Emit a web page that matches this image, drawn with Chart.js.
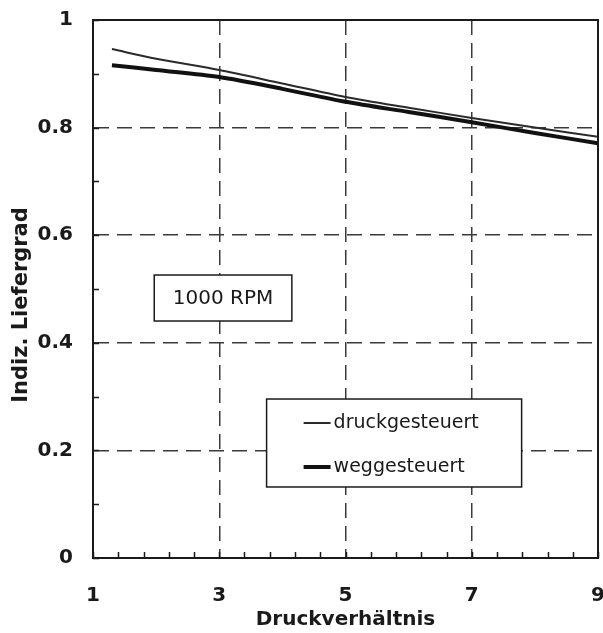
<!DOCTYPE html>
<html>
<head>
<meta charset="utf-8">
<script src="https://cdn.jsdelivr.net/npm/chart.js@4.4.1/dist/chart.umd.min.js"></script>
<style>
  html, body { margin: 0; padding: 0; background: #fff; }
  canvas { display: block; }
</style>
</head>
<body>
<canvas id="chart" width="603" height="633"></canvas>
<script>
// --- Data ---
const druckVerhaeltnis = [1.3, 2, 3, 4, 5, 6, 7, 8, 9];
const druckgesteuert = [0.946, 0.928, 0.907, 0.882, 0.857, 0.837, 0.818, 0.800, 0.783];
const weggesteuert = [0.916, 0.907, 0.894, 0.872, 0.848, 0.829, 0.810, 0.790, 0.771];
const seriesNames = ['druckgesteuert', 'weggesteuert'];
const xTickValues = [1, 3, 5, 7, 9];
const yTickValues = [0, 0.2, 0.4, 0.6, 0.8, 1];
const yTickLabels = ['0', '0.2', '0.4', '0.6', '0.8', '1'];
const xMinorStep = 0.4;
const yMinorStep = 0.1;
const noteText = '1000 RPM';
const xTitle = 'Druckverhältnis';
const yTitle = 'Indiz. Liefergrad';

const ink = '#1a1a1a';
const gridInk = '#3a3a3a';

const toPoints = ys => druckVerhaeltnis.map((x, i) => ({ x: x, y: ys[i] }));

// frame, inward tick marks, note box, legend box, y title
const decorations = {
    id: 'decorations',
    afterDatasetsDraw(chart) {
        const { ctx, chartArea: a, scales: { x, y } } = chart;
        ctx.save();

        // inward tick marks on bottom and left axis
        ctx.strokeStyle = ink;
        ctx.lineWidth = 1.5;
        ctx.beginPath();
        for (let v = x.min; v <= x.max + 1e-9; v += xMinorStep) {
            const px = Math.round(x.getPixelForValue(v)) + 0.5;
            ctx.moveTo(px, a.bottom);
            ctx.lineTo(px, a.bottom - 6);
        }
        for (let v = y.min; v <= y.max + 1e-9; v += yMinorStep) {
            const py = Math.round(y.getPixelForValue(v)) + 0.5;
            ctx.moveTo(a.left, py);
            ctx.lineTo(a.left + 6, py);
        }
        ctx.stroke();

        // full frame
        ctx.lineWidth = 2;
        ctx.strokeRect(a.left, a.top, a.right - a.left, a.bottom - a.top);

        // "1000 RPM" box
        const nL = x.getPixelForValue(1.97), nR = x.getPixelForValue(4.15);
        const nT = y.getPixelForValue(0.526), nB = y.getPixelForValue(0.4405);
        ctx.fillStyle = '#fff';
        ctx.fillRect(nL, nT, nR - nL, nB - nT);
        ctx.lineWidth = 1.5;
        ctx.strokeRect(nL, nT, nR - nL, nB - nT);
        ctx.fillStyle = ink;
        ctx.font = '20px "DejaVu Sans"';
        ctx.textAlign = 'center';
        ctx.textBaseline = 'middle';
        ctx.fillText(noteText, (nL + nR) / 2, (nT + nB) / 2 + 1);

        // legend box
        const lL = x.getPixelForValue(3.75), lR = x.getPixelForValue(7.79);
        const lT = y.getPixelForValue(0.2955), lB = y.getPixelForValue(0.132);
        ctx.fillStyle = '#fff';
        ctx.fillRect(lL, lT, lR - lL, lB - lT);
        ctx.strokeRect(lL, lT, lR - lL, lB - lT);
        ctx.font = '19px "DejaVu Sans"';
        ctx.textAlign = 'left';
        chart.data.datasets.forEach((ds, i) => {
            const rowY = lT + 24 + i * 44;
            ctx.strokeStyle = ds.borderColor;
            ctx.lineWidth = ds.borderWidth;
            ctx.beginPath();
            ctx.moveTo(lL + 37, rowY);
            ctx.lineTo(lL + 64, rowY);
            ctx.stroke();
            ctx.fillStyle = ink;
            ctx.fillText(ds.label, lL + 67, rowY);
        });

        // y axis title
        ctx.translate(22, 305);
        ctx.rotate(-Math.PI / 2);
        ctx.font = 'bold 21px "DejaVu Sans"';
        ctx.textAlign = 'center';
        ctx.fillText(yTitle, 0, 0);
        ctx.restore();
    }
};

new Chart(document.getElementById('chart'), {
    type: 'line',
    data: {
        datasets: [
            { label: seriesNames[0], data: toPoints(druckgesteuert), borderColor: '#2a2a2a', borderWidth: 2, pointRadius: 0, tension: 0.3 },
            { label: seriesNames[1], data: toPoints(weggesteuert), borderColor: '#111', borderWidth: 4, pointRadius: 0, tension: 0.3 }
        ]
    },
    options: {
        responsive: false,
        animation: false,
        layout: { autoPadding: false, padding: { top: 20, right: 5, left: 0, bottom: 0 } },
        plugins: { legend: { display: false }, tooltip: { enabled: false } },
        scales: {
            x: {
                type: 'linear', min: 1, max: 9,
                afterBuildTicks: s => { s.ticks = xTickValues.map(v => ({ value: v })); },
                afterFit: s => { s.height = 75; s.paddingLeft = 0; s.paddingRight = 0; },
                ticks: { color: ink, padding: 26, font: { family: 'DejaVu Sans', size: 20, weight: 'bold' }, maxRotation: 0 },
                grid: { drawTicks: false, lineWidth: 1.5, color: c => (c.tick && (c.tick.value === 1 || c.tick.value === 9)) ? 'transparent' : gridInk },
                border: { display: true, color: ink, width: 2, dash: [15, 8] },
                title: { display: true, text: xTitle, color: ink, font: { family: 'DejaVu Sans', size: 20, weight: 'bold' }, padding: { top: 0, bottom: 1 } }
            },
            y: {
                min: 0, max: 1,
                afterBuildTicks: s => { s.ticks = yTickValues.map(v => ({ value: v })); },
                afterFit: s => { s.width = 93; s.paddingTop = 0; s.paddingBottom = 0; },
                ticks: { color: ink, padding: 20, font: { family: 'DejaVu Sans', size: 20, weight: 'bold' }, callback: (v) => yTickLabels[yTickValues.indexOf(v)] },
                grid: { drawTicks: false, lineWidth: 1.5, color: c => (c.tick && (c.tick.value === 0 || c.tick.value === 1)) ? 'transparent' : gridInk },
                border: { display: true, color: ink, width: 2, dash: [15, 8] }
            }
        }
    },
    plugins: [decorations]
});
</script>
</body>
</html>
